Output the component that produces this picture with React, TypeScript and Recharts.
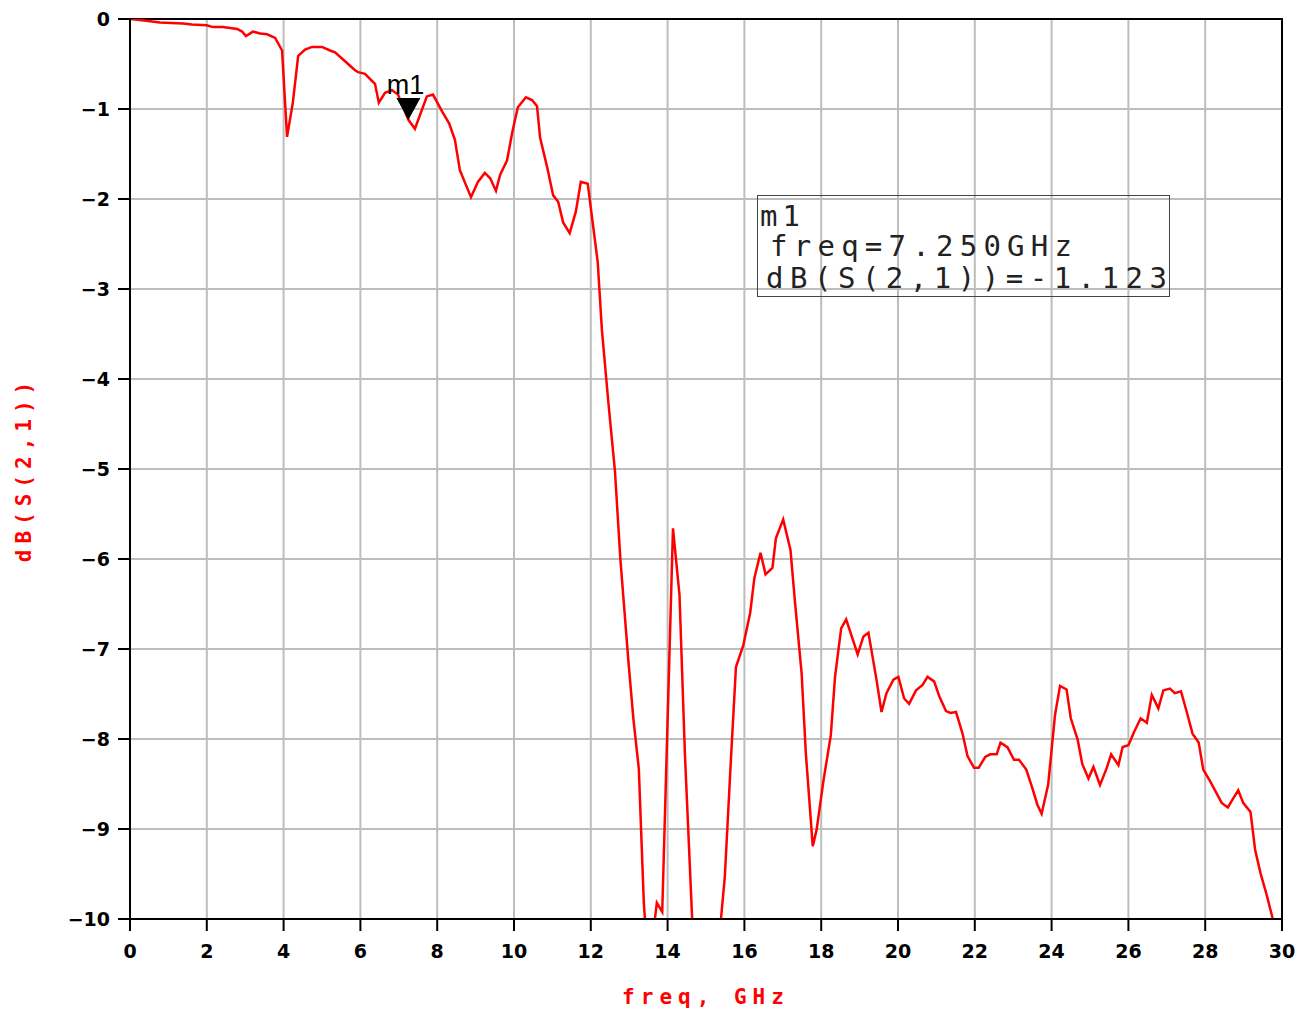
import React from 'react';
import { LineChart, Line, XAxis, YAxis, CartesianGrid, ReferenceArea, ReferenceDot, Label } from 'recharts';

// S21 readout, freq in GHz
const freq = [
  0, 0.26, 0.78, 1.38, 1.61, 2.0, 2.16, 2.42, 2.79, 2.92, 3.02, 3.2, 3.39, 3.57, 3.78, 3.96,
  4.09, 4.24, 4.38, 4.56, 4.74, 5.0, 5.21, 5.34, 5.6, 5.86, 5.94, 6.12, 6.33, 6.38, 6.48, 6.64,
  6.82, 6.98, 7.25, 7.42, 7.73, 7.89, 8.13, 8.31, 8.46, 8.59, 8.88, 9.06, 9.24, 9.38, 9.53, 9.64,
  9.82, 9.95, 10.1, 10.31, 10.47, 10.6, 10.68, 10.86, 11.02, 11.15, 11.28, 11.45, 11.61, 11.74, 11.92,
  12.18, 12.29, 12.46, 12.63, 12.77, 12.98, 13.11, 13.25, 13.38, 13.5, 13.72, 13.86, 14.14, 14.31,
  14.45, 14.64, 14.8, 15.0, 15.25, 15.39, 15.49, 15.63, 15.78, 15.97, 16.15, 16.26, 16.42, 16.55,
  16.73, 16.82, 17.01, 17.2, 17.32, 17.49, 17.6, 17.78, 17.88, 18.06, 18.25, 18.36, 18.52, 18.65,
  18.95, 19.1, 19.23, 19.44, 19.57, 19.7, 19.88, 20.01, 20.16, 20.29, 20.47, 20.64, 20.77, 20.94,
  21.08, 21.25, 21.37, 21.51, 21.68, 21.81, 21.98, 22.1, 22.27, 22.4, 22.57, 22.67, 22.85, 23.02,
  23.15, 23.34, 23.48, 23.63, 23.74, 23.91, 24.09, 24.22, 24.39, 24.5, 24.68, 24.8, 24.96, 25.09,
  25.26, 25.43, 25.55, 25.74, 25.85, 26.0, 26.15, 26.32, 26.48, 26.61, 26.78, 26.91, 27.08, 27.21,
  27.37, 27.52, 27.67, 27.83, 27.95, 28.13, 28.43, 28.59, 28.73, 28.86, 28.99, 29.18, 29.3, 29.44,
  29.6, 29.76,
];

const s21 = [
  0, -0.01, -0.04, -0.05, -0.06, -0.07, -0.09, -0.09, -0.11, -0.14, -0.19, -0.14, -0.16, -0.17, -0.21, -0.35,
  -1.31, -0.93, -0.41, -0.34, -0.31, -0.31, -0.35, -0.37, -0.47, -0.57, -0.59, -0.61, -0.7, -0.72, -0.93, -0.82,
  -0.79, -0.84, -1.12, -1.22, -0.86, -0.84, -1.03, -1.16, -1.34, -1.68, -1.98, -1.81, -1.71, -1.77, -1.91, -1.73,
  -1.57, -1.27, -0.98, -0.87, -0.9, -0.97, -1.32, -1.64, -1.96, -2.03, -2.26, -2.38, -2.14, -1.81, -1.83,
  -2.7, -3.46, -4.27, -5.03, -6.0, -7.14, -7.78, -8.33, -9.81, -10.6, -9.82, -9.92, -5.66, -6.4,
  -8.16, -10.0, -11.0, -11.5, -11.0, -10.0, -9.53, -8.38, -7.2, -6.96, -6.6, -6.21, -5.93, -6.17,
  -6.1, -5.77, -5.56, -5.9, -6.49, -7.27, -8.16, -9.19, -9.01, -8.46, -7.96, -7.31, -6.77, -6.67,
  -7.06, -6.86, -6.82, -7.34, -7.7, -7.49, -7.34, -7.31, -7.55, -7.61, -7.46, -7.4, -7.31, -7.36,
  -7.53, -7.69, -7.71, -7.7, -7.94, -8.19, -8.32, -8.32, -8.2, -8.17, -8.17, -8.04, -8.09, -8.23,
  -8.23, -8.34, -8.52, -8.73, -8.83, -8.51, -7.73, -7.41, -7.45, -7.77, -8.01, -8.28, -8.44, -8.31,
  -8.51, -8.33, -8.17, -8.29, -8.09, -8.07, -7.92, -7.77, -7.82, -7.51, -7.66, -7.46, -7.44, -7.49,
  -7.47, -7.7, -7.94, -8.04, -8.34, -8.47, -8.71, -8.76, -8.66, -8.57, -8.71, -8.81, -9.23, -9.49,
  -9.73, -10.0,
];

const xTicks = [0, 2, 4, 6, 8, 10, 12, 14, 16, 18, 20, 22, 24, 26, 28, 30];
const yTicks = [0, -1, -2, -3, -4, -5, -6, -7, -8, -9, -10];

const markerName = 'm1';
const markerFreq = 7.25;
const markerDb = -1.123;
const markerLines = ['m1', 'freq=7.250GHz', 'dB(S(2,1))=-1.123'];

const data = freq.map((f, i) => ({ freq: f, db: s21[i] }));

const tickStyle = { fontFamily: 'DejaVu Sans', fontWeight: 'bold', fontSize: 19, fill: '#000' };
const titleStyle = { fontFamily: 'DejaVu Sans Mono', fontWeight: 'bold', fontSize: 21, fill: '#ff0000', letterSpacing: 6 };

const fmtY = (v: number) => (v < 0 ? '\u2212' + Math.abs(v) : String(v));

function MarkerShape(props: any) {
  const { cx, cy } = props;
  return (
    <g>
      <path d={`M${cx - 12},${cy - 22} L${cx + 12},${cy - 22} L${cx},${cy} Z`} fill="#000" />
      <text x={cx - 3} y={cy - 26} textAnchor="middle" fontFamily="Liberation Sans" fontSize={27} fill="#000">
        {markerName}
      </text>
    </g>
  );
}

export default function App() {
  return (
    <div style={{ position: 'absolute', left: 0, top: 0, width: 1315, height: 1021, background: '#fff' }}>
      <LineChart width={1315} height={1021} data={data} margin={{ top: 19, right: 33, bottom: 42, left: 0 }}>
        <CartesianGrid stroke="#bdbdbd" strokeWidth={2} />
        <XAxis
          dataKey="freq"
          type="number"
          domain={[0, 30]}
          ticks={xTicks}
          allowDataOverflow
          height={60}
          tickSize={12}
          tickMargin={14}
          axisLine={{ stroke: '#000', strokeWidth: 2 }}
          tickLine={{ stroke: '#000', strokeWidth: 2 }}
          tick={tickStyle}
        >
          <Label value="freq, GHz" position="bottom" offset={10} style={titleStyle} />
        </XAxis>
        <YAxis
          type="number"
          domain={[-10, 0]}
          ticks={yTicks}
          allowDataOverflow
          width={130}
          tickSize={12}
          tickMargin={8}
          tickFormatter={fmtY}
          axisLine={{ stroke: '#000', strokeWidth: 2 }}
          tickLine={{ stroke: '#000', strokeWidth: 2 }}
          tick={tickStyle}
        >
          <Label value="dB(S(2,1))" angle={-90} position="insideLeft" offset={24} style={{ ...titleStyle, textAnchor: 'middle' }} />
        </YAxis>
        <ReferenceArea x1={0} x2={30} y1={-10} y2={0} fill="none" fillOpacity={0} stroke="#000" strokeWidth={2} />
        <Line type="linear" dataKey="db" stroke="#ff0000" strokeWidth={2.5} dot={false} isAnimationActive={false} />
        <ReferenceDot x={markerFreq} y={markerDb} shape={MarkerShape} />
      </LineChart>
      <svg width={1315} height={1021} style={{ position: 'absolute', left: 0, top: 0, pointerEvents: 'none' }}>
        <rect x={757.5} y={195.5} width={412} height={101} fill="none" stroke="#444" strokeWidth={1} />
        <text x={760} y={226} fontFamily="DejaVu Sans Mono" fontSize={29} fill="#222" textLength={40} lengthAdjust="spacing">
          {markerLines[0]}
        </text>
        <text x={770} y={256} fontFamily="DejaVu Sans Mono" fontSize={29} fill="#222" textLength={302} lengthAdjust="spacing">
          {markerLines[1]}
        </text>
        <text x={766} y={288} fontFamily="DejaVu Sans Mono" fontSize={29} fill="#222" textLength={401} lengthAdjust="spacing">
          {markerLines[2]}
        </text>
      </svg>
    </div>
  );
}
